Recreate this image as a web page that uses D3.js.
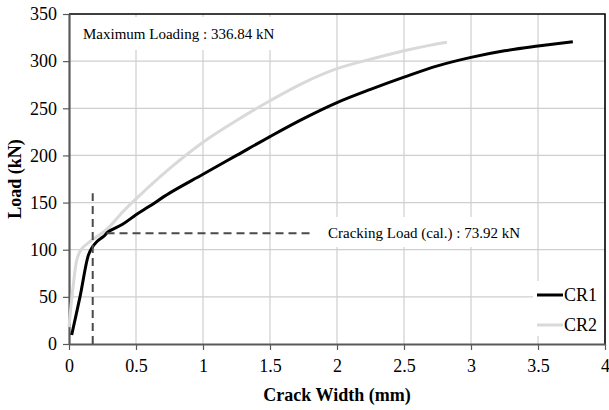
<!DOCTYPE html>
<html>
<head>
<meta charset="utf-8">
<script src="https://cdn.jsdelivr.net/npm/d3@7"></script>
<style>
  html, body { margin: 0; padding: 0; background: #fff; }
  svg { display: block; }
</style>
</head>
<body>
<svg id="chart" width="609" height="410"></svg>
<script>
// Crack width (mm) vs. load (kN) for two specimens
const cr1Width = [0.02, 0.082, 0.144, 0.169, 0.207, 0.256, 0.293, 0.4, 0.5, 0.6, 0.75, 1.0, 1.25, 1.5, 1.75, 2.0, 2.25, 2.5, 2.75, 3.0, 3.25, 3.5, 3.76];
const cr1Load  = [9.5, 50, 94, 101.5, 108.5, 113.8, 119, 127, 137, 146, 160, 180, 200, 220, 239, 256, 270, 283, 295, 304, 311, 316, 320.5];

const cr2Width = [0.0, 0.03, 0.06, 0.09, 0.16, 0.25, 0.3, 0.4, 0.5, 0.75, 1.0, 1.25, 1.5, 1.75, 2.0, 2.25, 2.5, 2.7, 2.82];
const cr2Load  = [18, 60, 90, 100, 109, 118, 124, 140, 154, 186, 214, 237, 258, 277, 292, 302, 311, 317, 320];

const seriesNames = ["CR1", "CR2"];
const seriesColors = ["#000000", "#d9d9d9"];

const xTicks = [0, 0.5, 1, 1.5, 2, 2.5, 3, 3.5, 4];
const yTicks = [0, 50, 100, 150, 200, 250, 300, 350];

// Reference guide lines for the cracking point
const crackGuideWidth = 0.177;   // vertical guide (mm)
const crackGuideTop = 160;       // vertical guide top (kN)
const crackGuideLoad = 117.4;    // horizontal guide (kN)
const crackGuideSpan = [0.28, 1.8];

const maxLabel = "Maximum Loading : 336.84 kN";
const crackLabel = "Cracking Load (cal.) : 73.92 kN";

const FONT = "Liberation Serif, Times New Roman, Times, Tinos, Noto Serif, DejaVu Serif, FreeSerif, serif";

const svg = d3.select("#chart").style("font-family", FONT);
const plotLeft = 69, plotTop = 14, plotRight = 605, plotBottom = 344;

const x = d3.scaleLinear().domain([0, 4]).range([plotLeft, plotRight]);
const y = d3.scaleLinear().domain([0, 350]).range([plotBottom, plotTop]);

// gridlines
const grid = svg.append("g");
grid.selectAll("line.v").data(xTicks.filter(d => d > 0 && d < 4)).join("line")
  .attr("class", "v")
  .attr("x1", d => x(d)).attr("x2", d => x(d))
  .attr("y1", plotTop).attr("y2", plotBottom)
  .attr("stroke", "#cfcfcf").attr("stroke-width", 1.2);
grid.selectAll("line.h").data(yTicks.filter(d => d > 0 && d < 350)).join("line")
  .attr("class", "h")
  .attr("x1", plotLeft).attr("x2", plotRight)
  .attr("y1", d => y(d)).attr("y2", d => y(d))
  .attr("stroke", "#cfcfcf").attr("stroke-width", 1.2);

// white backdrops behind annotation texts
svg.append("rect").attr("x", 75).attr("y", 17).attr("width", 207).attr("height", 33).attr("fill", "#fff");
svg.append("rect").attr("x", 318).attr("y", 217).attr("width", 214).attr("height", 30).attr("fill", "#fff");

// frame top & right
svg.append("path")
  .attr("d", `M${plotLeft},${plotTop}H${plotRight}V${plotBottom}`)
  .attr("fill", "none").attr("stroke", "#000").attr("stroke-width", 1.6);

// axes
const xAxis = d3.axisBottom(x).tickValues(xTicks).tickFormat(d3.format("")).tickSize(6).tickSizeOuter(0);
const yAxis = d3.axisLeft(y).tickValues(yTicks).tickFormat(d3.format("")).tickSize(6).tickSizeOuter(0);

const gx = svg.append("g").attr("transform", `translate(0,${plotBottom})`).call(xAxis);
const gy = svg.append("g").attr("transform", `translate(${plotLeft},0)`).call(yAxis);
[gx, gy].forEach(g => {
  g.attr("font-family", null).attr("font-size", null);
  g.select(".domain").attr("stroke", "#5a5a5a").attr("stroke-width", 2.2);
  g.selectAll(".tick line").attr("stroke", "#5a5a5a").attr("stroke-width", 1.2);
  g.selectAll(".tick text").attr("fill", "#000").style("font-family", FONT).style("font-size", "18px");
});
gx.selectAll(".tick text").attr("dy", "1.05em");
gy.selectAll(".tick text").attr("x", -12);

// axis titles
svg.append("text").attr("x", (plotLeft + plotRight) / 2).attr("y", 401)
  .style("font-family", FONT)
  .attr("text-anchor", "middle").attr("font-weight", "bold").attr("font-size", 18)
  .text("Crack Width (mm)");
svg.append("text").attr("transform", `translate(21,${(plotTop + plotBottom) / 2}) rotate(-90)`)
  .style("font-family", FONT)
  .attr("text-anchor", "middle").attr("font-weight", "bold").attr("font-size", 18)
  .text("Load (kN)");

// series (light series first so the dark one sits on top)
const line = d3.line()
  .x(d => x(d[0])).y(d => y(d[1]))
  .curve(d3.curveCatmullRom.alpha(0.5));

const series = [
  { color: seriesColors[1], pts: d3.zip(cr2Width, cr2Load) },
  { color: seriesColors[0], pts: d3.zip(cr1Width, cr1Load) }
];
svg.append("g").selectAll("path").data(series).join("path")
  .attr("d", d => line(d.pts))
  .attr("fill", "none")
  .attr("stroke", d => d.color)
  .attr("stroke-width", 3)
  .attr("stroke-linejoin", "round");

// cracking guides
const guides = svg.append("g").attr("stroke", "#4a4a4a").attr("stroke-width", 2).attr("stroke-dasharray", "8,5");
guides.append("line")
  .attr("x1", x(crackGuideWidth)).attr("x2", x(crackGuideWidth))
  .attr("y1", y(0)).attr("y2", y(crackGuideTop));
guides.append("line")
  .attr("x1", x(crackGuideSpan[0])).attr("x2", x(crackGuideSpan[1]))
  .attr("y1", y(crackGuideLoad)).attr("y2", y(crackGuideLoad));

// annotations
svg.append("text").attr("x", 83).attr("y", 39).style("font-family", FONT).attr("font-size", 15).text(maxLabel);
svg.append("text").attr("x", 328).attr("y", 238).style("font-family", FONT).attr("font-size", 15).text(crackLabel);

// legend
const lg = svg.append("g");
lg.append("rect").attr("x", 533).attr("y", 281).attr("width", 71).attr("height", 55).attr("fill", "#fff");
seriesNames.forEach((name, i) => {
  const ly = 295 + i * 30;
  lg.append("line").attr("x1", 537).attr("x2", 563).attr("y1", ly).attr("y2", ly)
    .attr("stroke", seriesColors[i]).attr("stroke-width", 3);
  lg.append("text").attr("x", 564).attr("y", ly + 6).style("font-family", FONT).attr("font-size", 18).text(name);
});
</script>
</body>
</html>
